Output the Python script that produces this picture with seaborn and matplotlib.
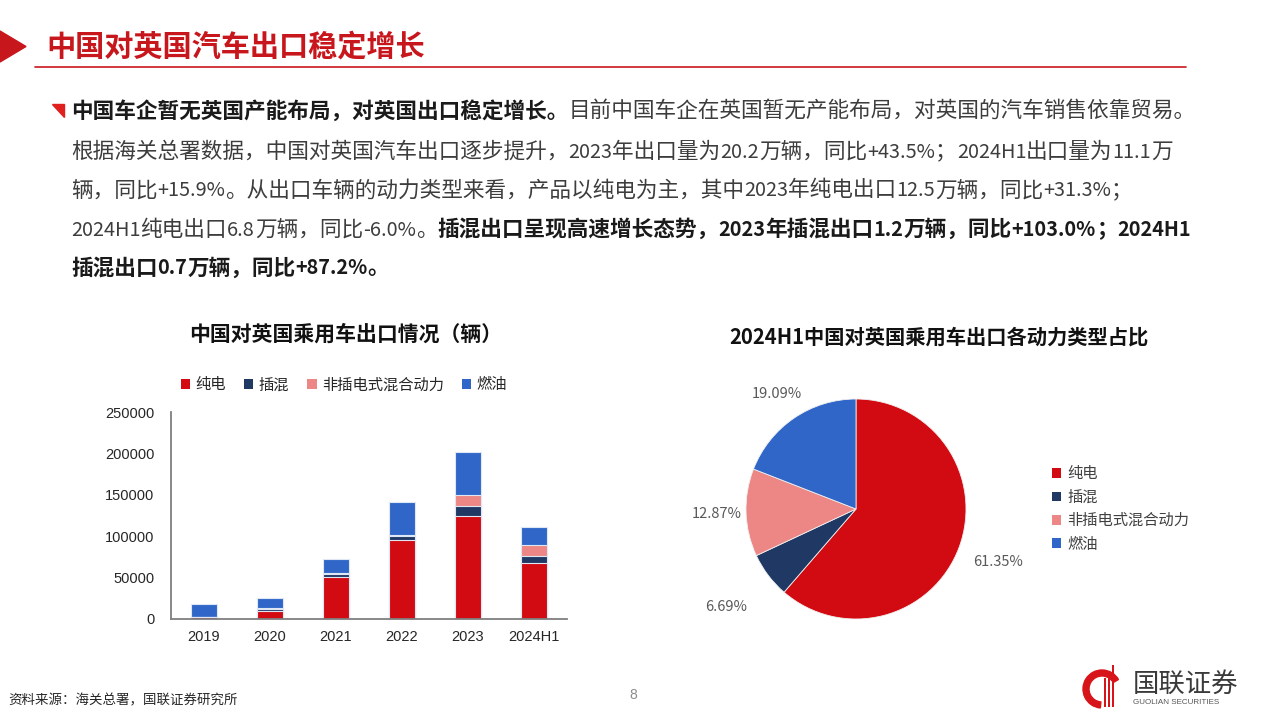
import re
import numpy as np
import pandas as pd
import matplotlib
matplotlib.use("Agg")
import matplotlib.pyplot as plt
import seaborn as sns
from matplotlib.patches import Patch, Polygon, Wedge, Rectangle

# data
years = ["2019", "2020", "2021", "2022", "2023", "2024H1"]
bev = [2000, 9500, 50300, 95300, 125000, 68100]      # 纯电
phev = [500, 3000, 4400, 5200, 12000, 7430]          # 插混
hev = [200, 300, 300, 500, 12500, 14290]             # 非插电式混合动力
ice = [15500, 12500, 17700, 40200, 52700, 21190]     # 燃油
types = ["纯电", "插混", "非插电式混合动力", "燃油"]
colors = ["#D20A11", "#1F3864", "#EC8785", "#3066C8"]
yticks = [0, 50000, 100000, 150000, 200000, 250000]

page_title = "中国对英国汽车出口稳定增长"
bar_title = "中国对英国乘用车出口情况（辆）"
pie_title = "2024H1中国对英国乘用车出口各动力类型占比"
source = "资料来源：海关总署，国联证券研究所"

# paragraph lines: (text, bold)
para = [
    [("中国车企暂无英国产能布局，对英国出口稳定增长。", True),
     ("目前中国车企在英国暂无产能布局，对英国的汽车销售依靠贸易。", False)],
    [("根据海关总署数据，中国对英国汽车出口逐步提升，2023年出口量为20.2万辆，同比+43.5%；2024H1出口量为11.1万", False)],
    [("辆，同比+15.9%。从出口车辆的动力类型来看，产品以纯电为主，其中2023年纯电出口12.5万辆，同比+31.3%；", False)],
    [("2024H1纯电出口6.8万辆，同比-6.0%。", False),
     ("插混出口呈现高速增长态势，2023年插混出口1.2万辆，同比+103.0%；2024H1", True)],
    [("插混出口0.7万辆，同比+87.2%。", True)],
]

sns.set_theme(style="white")
plt.rcParams['font.family'] = ['Noto Sans CJK SC', 'DejaVu Sans']

W, H = 1280, 720
fig = plt.figure(figsize=(12.8, 7.2), dpi=100)
fig.patch.set_facecolor("white")

# overlay in pixel coords for the page decoration
bg = fig.add_axes([0, 0, 1, 1])
bg.set_xlim(0, W)
bg.set_ylim(H, 0)
bg.axis("off")

red = "#C8161D"
bg.add_patch(Polygon([[0, 31], [0, 62], [26, 46.5]], closed=True, color=red))
bg.text(46, 47, page_title, color=red, fontsize=21, fontweight="bold", va="center", ha="left")
bg.plot([35, 1186], [67, 67], color=red, lw=1.2)

# paragraph: CJK runs a bit larger, ascii runs a bit smaller (as in the source deck)
bg.add_patch(Polygon([[52, 104], [64, 104], [64, 117]], closed=True, color="#E0201F"))
renderer = fig.canvas.get_renderer()
line_y = [111, 151, 190, 229, 268]
for segs, y in zip(para, line_y):
    x = 71
    for txt, bold in segs:
        for run in re.findall(r"[\x20-\x7e]+|[^\x20-\x7e]+", txt):
            is_ascii = run[0].isascii()
            t = bg.text(x, y + 6.5, run, fontsize=14.3 if is_ascii else 15.6, va="baseline", ha="left",
                        fontweight="bold" if bold else "normal",
                        color="#1a1a1a" if bold else "#3d3d3d")
            x += t.get_window_extent(renderer).width

# stacked bars
df = pd.DataFrame({"year": years, "纯电": bev, "插混": phev, "非插电式混合动力": hev, "燃油": ice})
df["c1"] = df["纯电"]
df["c2"] = df["c1"] + df["插混"]
df["c3"] = df["c2"] + df["非插电式混合动力"]
df["c4"] = df["c3"] + df["燃油"]

axb = fig.add_axes([171 / W, 1 - 619 / H, (567 - 171) / W, (619 - 412) / H])
for col, c in zip(["c4", "c3", "c2", "c1"], colors[::-1]):
    sns.barplot(data=df, x="year", y=col, color=c, saturation=1, width=0.4,
                errorbar=None, edgecolor="#dfe7f5", linewidth=0.8, ax=axb)
axb.set_xlim(-0.5, 5.5)
axb.set_ylim(0, 250000)
axb.set_yticks(yticks)
axb.set_yticklabels([str(v) for v in yticks], fontsize=10.5, family=['Liberation Sans', 'DejaVu Sans'], color="#262626")
axb.set_xticks(range(len(years)))
axb.set_xticklabels(years, fontsize=10.5, family=['Liberation Sans', 'DejaVu Sans'], color="#262626")
axb.set_xticks(np.arange(-0.5, 6, 1), minor=True)
axb.tick_params(axis="x", which="major", length=0, pad=8)
axb.tick_params(axis="x", which="minor", length=4, direction="in", color="#7f7f7f", width=1)
axb.tick_params(axis="y", length=4, direction="in", color="#7f7f7f", width=1, pad=12)
axb.set_xlabel("")
axb.set_ylabel("")
for s in ["top", "right"]:
    axb.spines[s].set_visible(False)
for s in ["left", "bottom"]:
    axb.spines[s].set_color("#7f7f7f")
    axb.spines[s].set_linewidth(1.3)
axb.set_facecolor("white")

bg.text(346, 334, bar_title, fontsize=15, fontweight="bold", ha="center", va="center", color="#111111")
handles = [Patch(facecolor=c, edgecolor="none", label=t) for c, t in zip(colors, types)]
axb.legend(handles=handles, ncol=4, loc="center", bbox_to_anchor=(344 / W, 1 - 385 / H),
           bbox_transform=fig.transFigure, frameon=False, fontsize=11,
           handlelength=0.6, handleheight=0.6, handletextpad=0.35, columnspacing=1.2,
           labelcolor="#262626")

# pie for 2024H1
pie_vals = [bev[-1], phev[-1], hev[-1], ice[-1]]
axp = fig.add_axes([(856 - 110) / W, 1 - (509 + 110) / H, 220 / W, 220 / H])
wedges, _ = axp.pie(pie_vals, colors=colors, startangle=90, counterclock=False, radius=1,
                    wedgeprops=dict(edgecolor="#f0f0f0", linewidth=0.6))
axp.set_xlim(-1, 1)
axp.set_ylim(-1, 1)
total = sum(pie_vals)
dist = [1.38, 1.48, 1.27, 1.27]
for w, v, d in zip(wedges, pie_vals, dist):
    ang = np.deg2rad((w.theta1 + w.theta2) / 2)
    axp.text(d * np.cos(ang), d * np.sin(ang), f"{v / total * 100:.2f}%", ha="center", va="center",
             fontsize=10.5, color="#595959", clip_on=False)

bg.text(939, 337, pie_title, fontsize=14.6, fontweight="bold", ha="center", va="center", color="#111111")
axp.legend(handles=handles, loc="center left", bbox_to_anchor=(1038 / W, 1 - 509 / H),
           bbox_transform=fig.transFigure, frameon=False, fontsize=11,
           handlelength=0.6, handleheight=0.6, handletextpad=0.4, labelspacing=0.42,
           labelcolor="#404040")

# footer
bg.text(8, 700, source, fontsize=9.7, ha="left", va="center", color="#262626")
bg.text(633, 695, "8", fontsize=10, ha="center", va="center", color="#8c8c8c",
        family=['Liberation Sans', 'DejaVu Sans'])
bg.add_patch(Wedge((1102, 689), 19, 95, 330, width=6, color="#D7141A"))
for xx, top in zip([1104, 1108, 1112], [678, 672, 665]):
    bg.add_patch(Rectangle((xx, top), 2, 707 - top, color="#D7141A", lw=0))
bg.text(1133, 684, "国联证券", fontsize=19, ha="left", va="center", color="#3a3a3a")
bg.text(1133, 702, "GUOLIAN SECURITIES", fontsize=5.8, ha="left", va="center", color="#555555",
        family=['Liberation Sans', 'DejaVu Sans'])

fig.savefig("out.png", dpi=100, facecolor="white")
